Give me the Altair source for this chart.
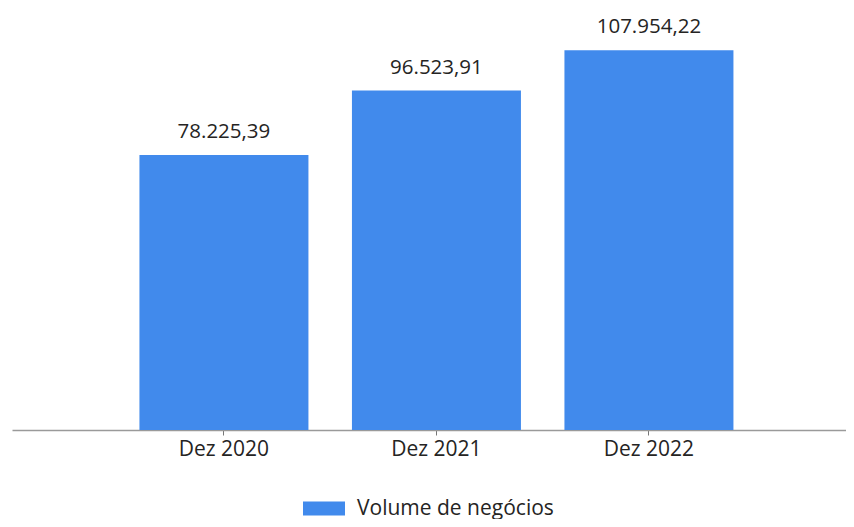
import altair as alt
import pandas as pd

categories = ["Dez 2020", "Dez 2021", "Dez 2022"]
values = [78225.39, 96523.91, 107954.22]
series = "Volume de negócios"

def fmt(v):
    s = f"{v:,.2f}"
    return s.replace(",", "X").replace(".", ",").replace("X", ".")

df = pd.DataFrame({
    "cat": categories,
    "val": values,
    "label": [fmt(v) for v in values],
    "serie": [series] * len(values),
})

FONT = "Open Sans"
TXT = "#252423"

x = alt.X("cat:N", sort=categories, title=None,
          scale=alt.Scale(paddingInner=0.2047, paddingOuter=0.5647, align=0.531),
          axis=alt.Axis(labelAngle=0, labelFontSize=21, labelFont=FONT, labelColor=TXT,
                        domainColor="#9a9a9a", domainWidth=1.5, tickColor="#777777",
                        tickSize=5, labelPadding=3))
y = alt.Y("val:Q", axis=None, scale=alt.Scale(domain=[0, 119800]))

bars = alt.Chart(df).mark_bar(color="#418AEC").encode(
    x=x, y=y,
    color=alt.Color("serie:N", title=None,
                    scale=alt.Scale(domain=[series], range=["#418AEC"]),
                    legend=alt.Legend(orient="none", legendX=291, legendY=490,
                                      direction="horizontal", padding=0,
                                      symbolType="M-1,-0.667H3V0.667H-1Z", symbolSize=441,
                                      symbolStrokeWidth=0, symbolOpacity=1,
                                      labelFontSize=21, labelFont=FONT, labelColor=TXT,
                                      labelLimit=400, labelOffset=33)),
)

text = alt.Chart(df).mark_text(dy=-23, baseline="middle", fontSize=20.5, font=FONT,
                               color=TXT).encode(
    x=alt.X("cat:N", sort=categories), y="val:Q", text="label:N"
)

chart = (bars + text).properties(
    width=834, height=422,
    padding={"left": 4, "top": 0, "right": 0, "bottom": 0},
).configure_view(stroke=None)

chart.save("out.html", embed_options={"renderer": "svg", "actions": False})
